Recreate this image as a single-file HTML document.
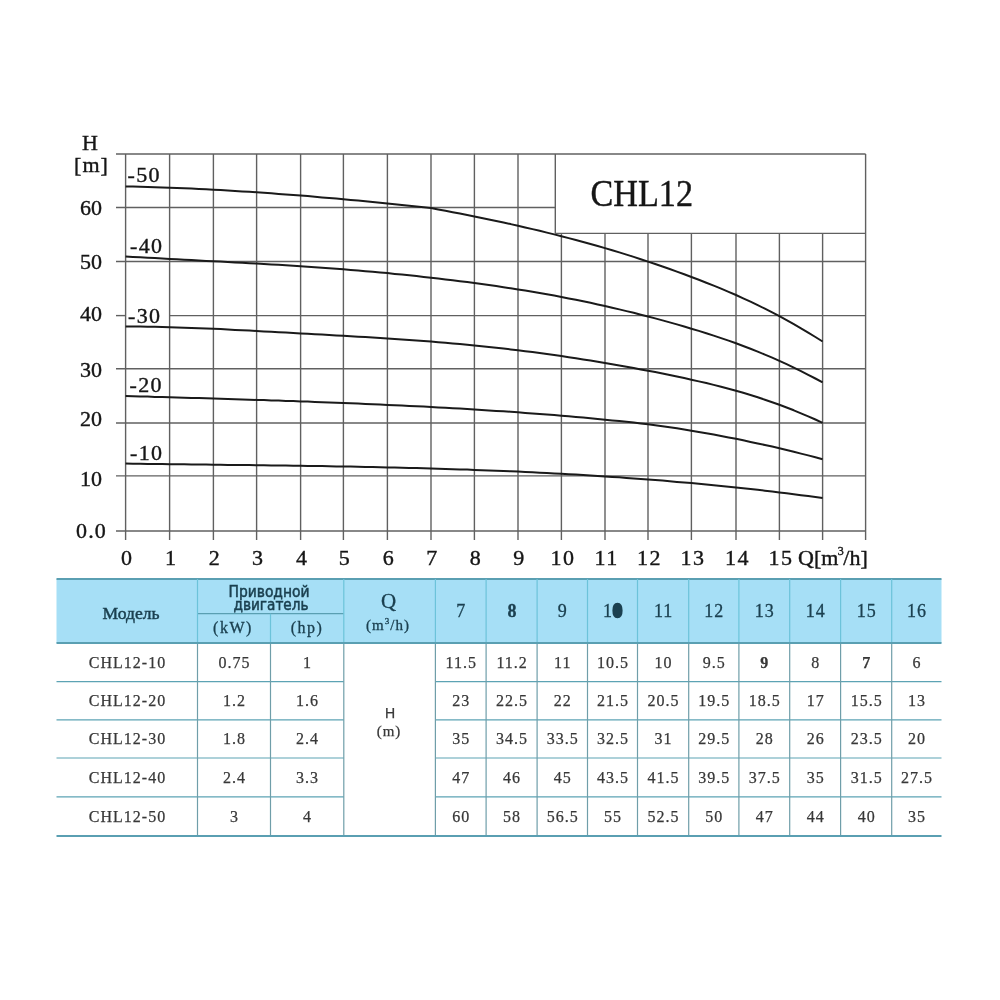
<!DOCTYPE html>
<html lang="ru"><head><meta charset="utf-8"><title>CHL12</title>
<style>html,body{margin:0;padding:0;background:#fff;width:1000px;height:1000px;overflow:hidden}svg{display:block;will-change:transform}</style>
</head><body>
<svg width="1000" height="1000" viewBox="0 0 1000 1000">
<rect width="1000" height="1000" fill="#fff"/>
<g fill="none" stroke="#606060" stroke-width="1.4">
<line x1="116" y1="531.00" x2="865.60" y2="531.00"/>
<line x1="116" y1="475.90" x2="865.60" y2="475.90"/>
<line x1="116" y1="423.00" x2="865.60" y2="423.00"/>
<line x1="116" y1="368.70" x2="865.60" y2="368.70"/>
<line x1="116" y1="315.60" x2="125.60" y2="315.60"/>
<line x1="169.60" y1="315.60" x2="865.60" y2="315.60"/>
<line x1="116" y1="261.50" x2="865.60" y2="261.50"/>
<line x1="116" y1="207.50" x2="555.30" y2="207.50"/>
<line x1="116" y1="154.00" x2="865.60" y2="154.00"/>
<line x1="125.60" y1="154.00" x2="125.60" y2="540"/>
<line x1="169.60" y1="154.00" x2="169.60" y2="540"/>
<line x1="213.40" y1="154.00" x2="213.40" y2="540"/>
<line x1="256.60" y1="154.00" x2="256.60" y2="540"/>
<line x1="300.60" y1="154.00" x2="300.60" y2="540"/>
<line x1="343.40" y1="154.00" x2="343.40" y2="540"/>
<line x1="387.40" y1="154.00" x2="387.40" y2="540"/>
<line x1="431.00" y1="154.00" x2="431.00" y2="540"/>
<line x1="474.40" y1="154.00" x2="474.40" y2="540"/>
<line x1="518.00" y1="154.00" x2="518.00" y2="540"/>
<line x1="561.40" y1="233.40" x2="561.40" y2="540"/>
<line x1="605.00" y1="233.40" x2="605.00" y2="540"/>
<line x1="648.00" y1="233.40" x2="648.00" y2="540"/>
<line x1="691.40" y1="233.40" x2="691.40" y2="540"/>
<line x1="736.00" y1="233.40" x2="736.00" y2="540"/>
<line x1="779.40" y1="233.40" x2="779.40" y2="540"/>
<line x1="822.60" y1="233.40" x2="822.60" y2="540"/>
<line x1="865.60" y1="154.00" x2="865.60" y2="540"/>
<line x1="555.30" y1="154.00" x2="555.30" y2="233.40"/>
<line x1="555.30" y1="233.40" x2="865.60" y2="233.40"/>
</g>
<g fill="none" stroke="#1a1a1a" stroke-width="2.0" stroke-linejoin="round">
<path d="M125.6,186.4 L132.9,186.6 L140.3,186.7 L147.6,186.9 L154.9,187.2 L162.3,187.4 L169.6,187.7 L176.9,188.0 L184.2,188.3 L191.5,188.6 L198.8,188.9 L206.1,189.3 L213.4,189.7 L220.6,190.1 L227.8,190.5 L235.0,190.9 L242.2,191.4 L249.4,191.8 L256.6,192.3 L263.9,192.8 L271.3,193.3 L278.6,193.9 L285.9,194.4 L293.3,195.0 L300.6,195.5 L307.7,196.1 L314.9,196.7 L322.0,197.4 L329.1,198.0 L336.3,198.6 L343.4,199.3 L350.7,200.0 L358.1,200.6 L365.4,201.3 L372.7,202.0 L380.1,202.8 L387.4,203.5 L394.7,204.2 L401.9,205.0 L409.2,205.8 L416.5,206.5 L423.7,207.3 L431.0,208.1 L438.2,209.4 L445.5,210.8 L452.7,212.2 L459.9,213.6 L467.2,215.0 L474.4,216.5 L481.7,218.0 L488.9,219.5 L496.2,221.0 L503.5,222.6 L510.7,224.1 L518.0,225.8 L525.2,227.4 L532.5,229.1 L539.7,230.8 L546.9,232.6 L554.2,234.4 L561.4,236.2 L568.7,238.1 L575.9,240.0 L583.2,242.0 L590.5,244.0 L597.7,246.0 L605.0,248.1 L612.2,250.2 L619.3,252.4 L626.5,254.6 L633.7,256.9 L640.8,259.2 L648.0,261.6 L655.2,264.0 L662.5,266.5 L669.7,269.0 L676.9,271.6 L684.2,274.3 L691.4,277.0 L698.8,279.8 L706.3,282.7 L713.7,285.6 L721.1,288.6 L728.6,291.8 L736.0,295.0 L743.2,298.3 L750.5,301.6 L757.7,305.1 L764.9,308.7 L772.2,312.4 L779.4,316.2 L786.6,320.1 L793.8,324.2 L801.0,328.3 L808.2,332.6 L815.4,337.0 L822.6,341.5"/>
<path d="M125.6,256.4 L132.9,256.9 L140.3,257.3 L147.6,257.7 L154.9,258.1 L162.3,258.5 L169.6,258.9 L176.9,259.3 L184.2,259.7 L191.5,260.1 L198.8,260.5 L206.1,260.9 L213.4,261.2 L220.6,261.6 L227.8,262.0 L235.0,262.4 L242.2,262.8 L249.4,263.2 L256.6,263.6 L263.9,264.0 L271.3,264.4 L278.6,264.8 L285.9,265.2 L293.3,265.7 L300.6,266.2 L307.7,266.7 L314.9,267.2 L322.0,267.7 L329.1,268.2 L336.3,268.8 L343.4,269.3 L350.7,269.9 L358.1,270.5 L365.4,271.2 L372.7,271.8 L380.1,272.5 L387.4,273.1 L394.7,273.9 L401.9,274.6 L409.2,275.3 L416.5,276.1 L423.7,276.9 L431.0,277.7 L438.2,278.5 L445.5,279.4 L452.7,280.3 L459.9,281.2 L467.2,282.1 L474.4,283.1 L481.7,284.1 L488.9,285.1 L496.2,286.1 L503.5,287.2 L510.7,288.3 L518.0,289.4 L525.2,290.6 L532.5,291.8 L539.7,293.0 L546.9,294.3 L554.2,295.6 L561.4,297.0 L568.7,298.4 L575.9,299.8 L583.2,301.3 L590.5,302.8 L597.7,304.4 L605.0,306.0 L612.2,307.7 L619.3,309.4 L626.5,311.1 L633.7,312.8 L640.8,314.7 L648.0,316.5 L655.2,318.4 L662.5,320.4 L669.7,322.4 L676.9,324.4 L684.2,326.5 L691.4,328.7 L698.8,330.9 L706.3,333.2 L713.7,335.6 L721.1,338.1 L728.6,340.6 L736.0,343.3 L743.2,346.0 L750.5,348.8 L757.7,351.6 L764.9,354.6 L772.2,357.7 L779.4,360.9 L786.6,364.2 L793.8,367.6 L801.0,371.1 L808.2,374.8 L815.4,378.5 L822.6,382.4"/>
<path d="M125.6,326.4 L132.9,326.5 L140.3,326.6 L147.6,326.7 L154.9,326.8 L162.3,327.0 L169.6,327.2 L176.9,327.4 L184.2,327.7 L191.5,327.9 L198.8,328.2 L206.1,328.5 L213.4,328.8 L220.6,329.1 L227.8,329.5 L235.0,329.9 L242.2,330.2 L249.4,330.6 L256.6,331.0 L263.9,331.4 L271.3,331.8 L278.6,332.2 L285.9,332.6 L293.3,333.0 L300.6,333.4 L307.7,333.8 L314.9,334.2 L322.0,334.6 L329.1,335.0 L336.3,335.4 L343.4,335.8 L350.7,336.2 L358.1,336.7 L365.4,337.1 L372.7,337.6 L380.1,338.0 L387.4,338.5 L394.7,339.0 L401.9,339.4 L409.2,340.0 L416.5,340.5 L423.7,341.0 L431.0,341.6 L438.2,342.2 L445.5,342.8 L452.7,343.4 L459.9,344.1 L467.2,344.7 L474.4,345.4 L481.7,346.2 L488.9,346.9 L496.2,347.7 L503.5,348.6 L510.7,349.4 L518.0,350.3 L525.2,351.2 L532.5,352.1 L539.7,353.1 L546.9,354.0 L554.2,355.1 L561.4,356.1 L568.7,357.2 L575.9,358.3 L583.2,359.4 L590.5,360.5 L597.7,361.7 L605.0,362.9 L612.2,364.2 L619.3,365.4 L626.5,366.7 L633.7,368.0 L640.8,369.4 L648.0,370.7 L655.2,372.1 L662.5,373.6 L669.7,375.0 L676.9,376.6 L684.2,378.1 L691.4,379.7 L698.8,381.4 L706.3,383.1 L713.7,384.9 L721.1,386.8 L728.6,388.7 L736.0,390.7 L743.2,392.8 L750.5,395.0 L757.7,397.3 L764.9,399.7 L772.2,402.2 L779.4,404.8 L786.6,407.5 L793.8,410.3 L801.0,413.3 L808.2,416.3 L815.4,419.5 L822.6,422.9"/>
<path d="M125.6,396.0 L132.9,396.2 L140.3,396.4 L147.6,396.6 L154.9,396.9 L162.3,397.1 L169.6,397.3 L176.9,397.5 L184.2,397.7 L191.5,397.9 L198.8,398.1 L206.1,398.3 L213.4,398.6 L220.6,398.8 L227.8,399.0 L235.0,399.2 L242.2,399.5 L249.4,399.7 L256.6,399.9 L263.9,400.1 L271.3,400.4 L278.6,400.6 L285.9,400.9 L293.3,401.1 L300.6,401.4 L307.7,401.6 L314.9,401.9 L322.0,402.2 L329.1,402.4 L336.3,402.7 L343.4,403.0 L350.7,403.3 L358.1,403.6 L365.4,403.9 L372.7,404.2 L380.1,404.5 L387.4,404.9 L394.7,405.2 L401.9,405.5 L409.2,405.9 L416.5,406.3 L423.7,406.6 L431.0,407.0 L438.2,407.4 L445.5,407.8 L452.7,408.2 L459.9,408.6 L467.2,409.0 L474.4,409.5 L481.7,409.9 L488.9,410.4 L496.2,410.9 L503.5,411.3 L510.7,411.8 L518.0,412.3 L525.2,412.9 L532.5,413.4 L539.7,414.0 L546.9,414.5 L554.2,415.1 L561.4,415.7 L568.7,416.3 L575.9,417.0 L583.2,417.6 L590.5,418.3 L597.7,419.0 L605.0,419.7 L612.2,420.4 L619.3,421.1 L626.5,421.8 L633.7,422.6 L640.8,423.4 L648.0,424.3 L655.2,425.2 L662.5,426.2 L669.7,427.2 L676.9,428.3 L684.2,429.5 L691.4,430.7 L698.8,431.9 L706.3,433.2 L713.7,434.6 L721.1,436.0 L728.6,437.4 L736.0,438.8 L743.2,440.3 L750.5,441.9 L757.7,443.4 L764.9,445.0 L772.2,446.6 L779.4,448.3 L786.6,450.0 L793.8,451.8 L801.0,453.6 L808.2,455.4 L815.4,457.3 L822.6,459.2"/>
<path d="M125.6,463.6 L132.9,463.7 L140.3,463.8 L147.6,463.9 L154.9,464.0 L162.3,464.1 L169.6,464.2 L176.9,464.3 L184.2,464.3 L191.5,464.4 L198.8,464.5 L206.1,464.6 L213.4,464.7 L220.6,464.8 L227.8,464.9 L235.0,464.9 L242.2,465.0 L249.4,465.1 L256.6,465.2 L263.9,465.3 L271.3,465.4 L278.6,465.5 L285.9,465.6 L293.3,465.7 L300.6,465.8 L307.7,465.9 L314.9,466.0 L322.0,466.1 L329.1,466.2 L336.3,466.4 L343.4,466.5 L350.7,466.6 L358.1,466.8 L365.4,466.9 L372.7,467.1 L380.1,467.2 L387.4,467.4 L394.7,467.6 L401.9,467.7 L409.2,467.9 L416.5,468.1 L423.7,468.3 L431.0,468.5 L438.2,468.7 L445.5,468.9 L452.7,469.2 L459.9,469.4 L467.2,469.6 L474.4,469.9 L481.7,470.2 L488.9,470.4 L496.2,470.7 L503.5,471.0 L510.7,471.3 L518.0,471.6 L525.2,472.0 L532.5,472.3 L539.7,472.7 L546.9,473.0 L554.2,473.4 L561.4,473.8 L568.7,474.2 L575.9,474.6 L583.2,475.0 L590.5,475.5 L597.7,475.9 L605.0,476.4 L612.2,476.9 L619.3,477.3 L626.5,477.9 L633.7,478.4 L640.8,478.9 L648.0,479.5 L655.2,480.0 L662.5,480.6 L669.7,481.2 L676.9,481.9 L684.2,482.5 L691.4,483.1 L698.8,483.8 L706.3,484.5 L713.7,485.2 L721.1,485.9 L728.6,486.7 L736.0,487.4 L743.2,488.2 L750.5,489.0 L757.7,489.8 L764.9,490.7 L772.2,491.5 L779.4,492.4 L786.6,493.3 L793.8,494.2 L801.0,495.2 L808.2,496.1 L815.4,497.1 L822.6,498.1"/>
</g>
<g font-family="Liberation Serif, serif" fill="#161616" stroke="#161616" stroke-width="0.4" font-size="22">
<text x="90" y="150" text-anchor="middle">H</text>
<text x="91.5" y="172" text-anchor="middle" letter-spacing="1">[m]</text>
<text x="91" y="485.6" text-anchor="middle">10</text>
<text x="91" y="425.8" text-anchor="middle">20</text>
<text x="91" y="376.8" text-anchor="middle">30</text>
<text x="91" y="321.0" text-anchor="middle">40</text>
<text x="91" y="269.0" text-anchor="middle">50</text>
<text x="91" y="215.0" text-anchor="middle">60</text>
<text x="91.5" y="537.6" text-anchor="middle" letter-spacing="1.2">0.0</text>
<text x="126.4" y="564.5" text-anchor="middle">0</text>
<text x="170.4" y="564.5" text-anchor="middle">1</text>
<text x="214.2" y="564.5" text-anchor="middle">2</text>
<text x="257.4" y="564.5" text-anchor="middle">3</text>
<text x="301.4" y="564.5" text-anchor="middle">4</text>
<text x="344.2" y="564.5" text-anchor="middle">5</text>
<text x="388.2" y="564.5" text-anchor="middle">6</text>
<text x="431.8" y="564.5" text-anchor="middle">7</text>
<text x="475.2" y="564.5" text-anchor="middle">8</text>
<text x="518.8" y="564.5" text-anchor="middle">9</text>
<text x="563.0" y="564.5" text-anchor="middle" letter-spacing="1.5">10</text>
<text x="606.6" y="564.5" text-anchor="middle" letter-spacing="1.5">11</text>
<text x="649.6" y="564.5" text-anchor="middle" letter-spacing="1.5">12</text>
<text x="693.0" y="564.5" text-anchor="middle" letter-spacing="1.5">13</text>
<text x="737.6" y="564.5" text-anchor="middle" letter-spacing="1.5">14</text>
<text x="781.0" y="564.5" text-anchor="middle" letter-spacing="1.5">15</text>
<text x="798" y="564.5">Q[m<tspan font-size="12" dy="-10" dx="-0.5">3</tspan><tspan dy="10" dx="-0.5">/h]</tspan></text>
<text x="127.5" y="182.3" letter-spacing="1.3">-50</text>
<text x="130.0" y="252.8" letter-spacing="1.3">-40</text>
<text x="128.0" y="322.8" letter-spacing="1.3">-30</text>
<text x="129.5" y="392.0" letter-spacing="1.3">-20</text>
<text x="130.0" y="460.3" letter-spacing="1.3">-10</text>
<text x="590.5" y="206.3" font-size="38.5" textLength="102.5" lengthAdjust="spacingAndGlyphs">CHL12</text>
</g>
<rect x="56.5" y="579.0" width="885.0" height="64.0" fill="#a6dff6"/>
<g stroke="#5a9fb2" fill="none">
<line x1="56.5" y1="579.0" x2="941.5" y2="579.0" stroke-width="2.2"/>
<line x1="56.5" y1="643.0" x2="941.5" y2="643.0" stroke-width="2.2"/>
<line x1="56.5" y1="836.0" x2="941.5" y2="836.0" stroke-width="2.2"/>
<line x1="197.5" y1="613.7" x2="343.8" y2="613.7" stroke-width="1.2"/>
<line x1="56.5" y1="681.7" x2="343.8" y2="681.7" stroke-width="1.2" stroke="#5da3b4"/>
<line x1="435.4" y1="681.7" x2="941.5" y2="681.7" stroke-width="1.2" stroke="#5da3b4"/>
<line x1="56.5" y1="719.8" x2="343.8" y2="719.8" stroke-width="1.2" stroke="#5da3b4"/>
<line x1="435.4" y1="719.8" x2="941.5" y2="719.8" stroke-width="1.2" stroke="#5da3b4"/>
<line x1="56.5" y1="758.0" x2="343.8" y2="758.0" stroke-width="1.2" stroke="#5da3b4"/>
<line x1="435.4" y1="758.0" x2="941.5" y2="758.0" stroke-width="1.2" stroke="#5da3b4"/>
<line x1="56.5" y1="796.8" x2="343.8" y2="796.8" stroke-width="1.2" stroke="#5da3b4"/>
<line x1="435.4" y1="796.8" x2="941.5" y2="796.8" stroke-width="1.2" stroke="#5da3b4"/>
<line x1="197.5" y1="579.0" x2="197.5" y2="642.0" stroke-width="1.2" stroke="#6cc3da"/>
<line x1="197.5" y1="644.0" x2="197.5" y2="835.0" stroke-width="1.2" stroke="#6f9ea9"/>
<line x1="270.5" y1="613.7" x2="270.5" y2="642.0" stroke-width="1.2" stroke="#6cc3da"/>
<line x1="270.5" y1="644.0" x2="270.5" y2="835.0" stroke-width="1.2" stroke="#6f9ea9"/>
<line x1="343.8" y1="579.0" x2="343.8" y2="642.0" stroke-width="1.2" stroke="#6cc3da"/>
<line x1="343.8" y1="644.0" x2="343.8" y2="835.0" stroke-width="1.2" stroke="#6f9ea9"/>
<line x1="435.4" y1="579.0" x2="435.4" y2="642.0" stroke-width="1.2" stroke="#6cc3da"/>
<line x1="435.4" y1="644.0" x2="435.4" y2="835.0" stroke-width="1.2" stroke="#6f9ea9"/>
<line x1="486.1" y1="579.0" x2="486.1" y2="642.0" stroke-width="1.2" stroke="#6cc3da"/>
<line x1="486.1" y1="644.0" x2="486.1" y2="835.0" stroke-width="1.2" stroke="#6f9ea9"/>
<line x1="537.1" y1="579.0" x2="537.1" y2="642.0" stroke-width="1.2" stroke="#6cc3da"/>
<line x1="537.1" y1="644.0" x2="537.1" y2="835.0" stroke-width="1.2" stroke="#6f9ea9"/>
<line x1="587.5" y1="579.0" x2="587.5" y2="642.0" stroke-width="1.2" stroke="#6cc3da"/>
<line x1="587.5" y1="644.0" x2="587.5" y2="835.0" stroke-width="1.2" stroke="#6f9ea9"/>
<line x1="637.5" y1="579.0" x2="637.5" y2="642.0" stroke-width="1.2" stroke="#6cc3da"/>
<line x1="637.5" y1="644.0" x2="637.5" y2="835.0" stroke-width="1.2" stroke="#6f9ea9"/>
<line x1="688.7" y1="579.0" x2="688.7" y2="642.0" stroke-width="1.2" stroke="#6cc3da"/>
<line x1="688.7" y1="644.0" x2="688.7" y2="835.0" stroke-width="1.2" stroke="#6f9ea9"/>
<line x1="738.9" y1="579.0" x2="738.9" y2="642.0" stroke-width="1.2" stroke="#6cc3da"/>
<line x1="738.9" y1="644.0" x2="738.9" y2="835.0" stroke-width="1.2" stroke="#6f9ea9"/>
<line x1="789.7" y1="579.0" x2="789.7" y2="642.0" stroke-width="1.2" stroke="#6cc3da"/>
<line x1="789.7" y1="644.0" x2="789.7" y2="835.0" stroke-width="1.2" stroke="#6f9ea9"/>
<line x1="840.6" y1="579.0" x2="840.6" y2="642.0" stroke-width="1.2" stroke="#6cc3da"/>
<line x1="840.6" y1="644.0" x2="840.6" y2="835.0" stroke-width="1.2" stroke="#6f9ea9"/>
<line x1="891.7" y1="579.0" x2="891.7" y2="642.0" stroke-width="1.2" stroke="#6cc3da"/>
<line x1="891.7" y1="644.0" x2="891.7" y2="835.0" stroke-width="1.2" stroke="#6f9ea9"/>
</g>
<g font-family="Liberation Serif, serif" fill="#1b4050" stroke="#1b4050" stroke-width="0.3" text-anchor="middle">
<text x="131" y="619" font-size="17" stroke="#1b4050" stroke-width="0.45" textLength="57" lengthAdjust="spacingAndGlyphs">Модель</text>
<text x="228.5" y="597" text-anchor="start" font-family="DejaVu Sans Condensed, DejaVu Sans, sans-serif" font-size="16" stroke="#1b4050" stroke-width="0.5" textLength="81" lengthAdjust="spacingAndGlyphs">Приводной</text>
<text x="233.5" y="609.5" text-anchor="start" font-family="DejaVu Sans Condensed, DejaVu Sans, sans-serif" font-size="16" stroke="#1b4050" stroke-width="0.5" textLength="75" lengthAdjust="spacingAndGlyphs">двигатель</text>
<text x="233" y="633" font-size="16" letter-spacing="1.5">(kW)</text>
<text x="307" y="633" font-size="16" letter-spacing="1.5">(hp)</text>
<text x="388.5" y="608" font-size="21">Q</text>
<text x="388" y="630" font-size="15" letter-spacing="1">(m<tspan font-size="9" dy="-6">3</tspan><tspan dy="6">/h)</tspan></text>
<text x="461.2" y="617" font-size="18" letter-spacing="1">7</text>
<text x="512.1" y="617" font-size="18" font-weight="bold">8</text>
<text x="562.8" y="617" font-size="18" letter-spacing="1">9</text>
<text x="613.0" y="617" font-size="18" letter-spacing="1">1<tspan font-weight="bold" stroke="#1b4050" stroke-width="2.6">0</tspan></text>
<text x="663.6" y="617" font-size="18" letter-spacing="1">11</text>
<text x="714.3" y="617" font-size="18" letter-spacing="1">12</text>
<text x="764.8" y="617" font-size="18" letter-spacing="1">13</text>
<text x="815.7" y="617" font-size="18" letter-spacing="1">14</text>
<text x="866.7" y="617" font-size="18" letter-spacing="1">15</text>
<text x="917.1" y="617" font-size="18" letter-spacing="1">16</text>
</g>
<g font-family="Liberation Serif, serif" fill="#383838" stroke="#383838" stroke-width="0.25" text-anchor="middle" font-size="16" letter-spacing="1">
<text x="127.5" y="667.9">CHL12-10</text>
<text x="234.5" y="667.9">0.75</text>
<text x="307.6" y="667.9">1</text>
<text x="461.2" y="667.9">11.5</text>
<text x="512.1" y="667.9">11.2</text>
<text x="562.8" y="667.9">11</text>
<text x="613.0" y="667.9">10.5</text>
<text x="663.6" y="667.9">10</text>
<text x="714.3" y="667.9">9.5</text>
<text x="764.8" y="667.9" font-weight="bold">9</text>
<text x="815.7" y="667.9">8</text>
<text x="866.7" y="667.9" font-weight="bold">7</text>
<text x="917.1" y="667.9">6</text>
<text x="127.5" y="706.2">CHL12-20</text>
<text x="234.5" y="706.2">1.2</text>
<text x="307.6" y="706.2">1.6</text>
<text x="461.2" y="706.2">23</text>
<text x="512.1" y="706.2">22.5</text>
<text x="562.8" y="706.2">22</text>
<text x="613.0" y="706.2">21.5</text>
<text x="663.6" y="706.2">20.5</text>
<text x="714.3" y="706.2">19.5</text>
<text x="764.8" y="706.2">18.5</text>
<text x="815.7" y="706.2">17</text>
<text x="866.7" y="706.2">15.5</text>
<text x="917.1" y="706.2">13</text>
<text x="127.5" y="744.4">CHL12-30</text>
<text x="234.5" y="744.4">1.8</text>
<text x="307.6" y="744.4">2.4</text>
<text x="461.2" y="744.4">35</text>
<text x="512.1" y="744.4">34.5</text>
<text x="562.8" y="744.4">33.5</text>
<text x="613.0" y="744.4">32.5</text>
<text x="663.6" y="744.4">31</text>
<text x="714.3" y="744.4">29.5</text>
<text x="764.8" y="744.4">28</text>
<text x="815.7" y="744.4">26</text>
<text x="866.7" y="744.4">23.5</text>
<text x="917.1" y="744.4">20</text>
<text x="127.5" y="782.9">CHL12-40</text>
<text x="234.5" y="782.9">2.4</text>
<text x="307.6" y="782.9">3.3</text>
<text x="461.2" y="782.9">47</text>
<text x="512.1" y="782.9">46</text>
<text x="562.8" y="782.9">45</text>
<text x="613.0" y="782.9">43.5</text>
<text x="663.6" y="782.9">41.5</text>
<text x="714.3" y="782.9">39.5</text>
<text x="764.8" y="782.9">37.5</text>
<text x="815.7" y="782.9">35</text>
<text x="866.7" y="782.9">31.5</text>
<text x="917.1" y="782.9">27.5</text>
<text x="127.5" y="821.9">CHL12-50</text>
<text x="234.5" y="821.9">3</text>
<text x="307.6" y="821.9">4</text>
<text x="461.2" y="821.9">60</text>
<text x="512.1" y="821.9">58</text>
<text x="562.8" y="821.9">56.5</text>
<text x="613.0" y="821.9">55</text>
<text x="663.6" y="821.9">52.5</text>
<text x="714.3" y="821.9">50</text>
<text x="764.8" y="821.9">47</text>
<text x="815.7" y="821.9">44</text>
<text x="866.7" y="821.9">40</text>
<text x="917.1" y="821.9">35</text>
<text x="390" y="718" font-family="Liberation Sans, sans-serif" font-size="14" letter-spacing="0">H</text>
<text x="389" y="736" font-size="15">(m)</text>
</g>
</svg>
</body></html>
